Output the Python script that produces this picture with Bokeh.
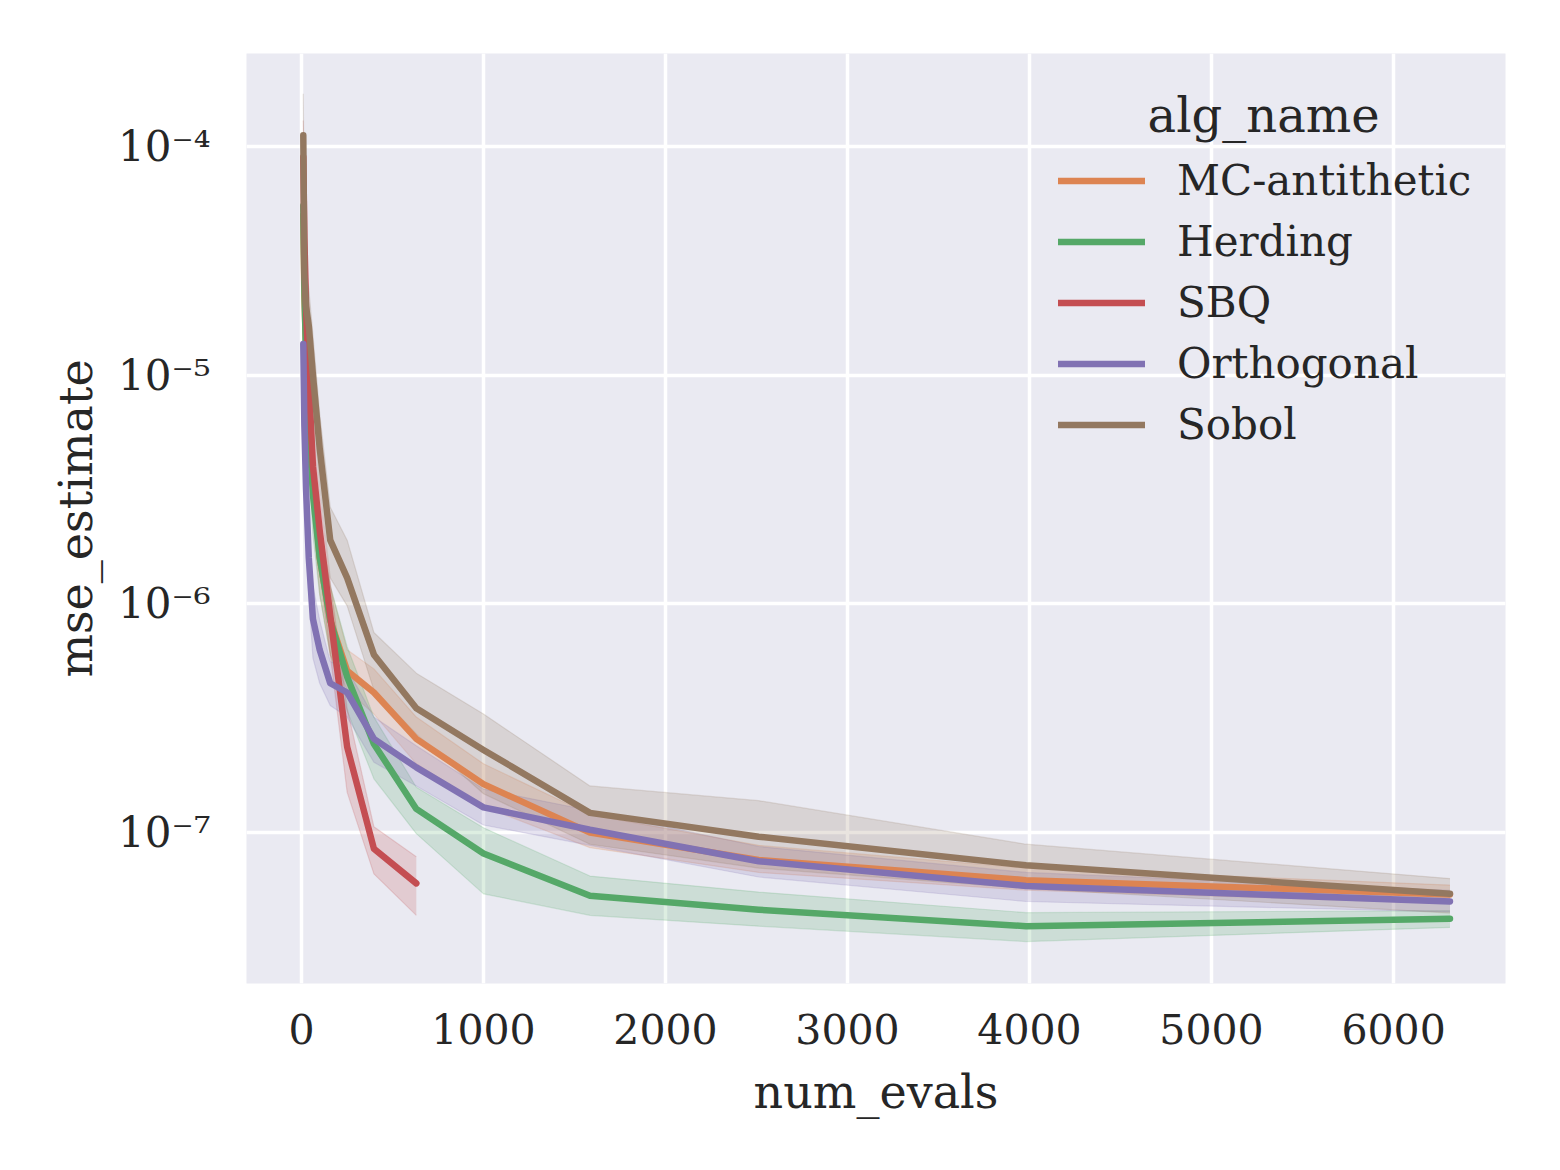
from bokeh.plotting import figure
from bokeh.models import (Range1d, FixedTicker, CustomJSTickFormatter, Legend, LegendItem,
                          Label, ColumnDataSource)
from bokeh.embed import file_html
from bokeh.resources import INLINE

num_evals = [10, 16, 25, 40, 63, 100, 158, 251, 398, 631, 1000, 1585, 2512, 3981, 6310]

alg_names = ["MC-antithetic", "Herding", "SBQ", "Orthogonal", "Sobol"]
colors = ["#dd8452", "#55a868", "#c44e52", "#8172b3", "#937860"]

mc_mean = [5.0e-5, 2.2e-5, 1.3e-5, 7.0e-6, 3.5e-6, 1.6e-6, 8.5e-7, 5.1e-7, 4.1e-7, 2.57e-7, 1.63e-7, 1.0e-7, 7.6e-8, 6.2e-8, 5.37e-8]
mc_lo = [3.0e-5, 1.4e-5, 8.5e-6, 4.6e-6, 2.4e-6, 1.1e-6, 6.0e-7, 4.2e-7, 3.3e-7, 2.0e-7, 1.3e-7, 8.6e-8, 6.7e-8, 5.6e-8, 4.9e-8]
mc_hi = [8.0e-5, 3.4e-5, 2.0e-5, 1.05e-5, 5.2e-6, 2.4e-6, 1.2e-6, 6.3e-7, 5.2e-7, 3.2e-7, 2.0e-7, 1.2e-7, 8.8e-8, 7.0e-8, 5.9e-8]

herd_mean = [5.5e-5, 2.5e-5, 1.2e-5, 6.0e-6, 3.0e-6, 1.6e-6, 8.5e-7, 4.8e-7, 2.44e-7, 1.27e-7, 8.1e-8, 5.3e-8, 4.6e-8, 3.9e-8, 4.2e-8]
herd_lo = [3.0e-5, 1.6e-5, 8.0e-6, 4.0e-6, 2.0e-6, 1.1e-6, 6.0e-7, 3.4e-7, 1.72e-7, 9.9e-8, 5.4e-8, 4.35e-8, 3.9e-8, 3.34e-8, 3.85e-8]
herd_hi = [9.0e-5, 3.8e-5, 1.8e-5, 9.0e-6, 4.5e-6, 2.3e-6, 1.2e-6, 6.5e-7, 3.2e-7, 1.58e-7, 1.05e-7, 6.46e-8, 5.5e-8, 4.47e-8, 4.56e-8]

sbq_evals = [10, 16, 25, 40, 63, 100, 158, 251, 398, 631]
sbq_mean = [9.0e-5, 4.0e-5, 2.0e-5, 9.5e-6, 4.0e-6, 2.1e-6, 8.9e-7, 2.37e-7, 8.5e-8, 6.0e-8]
sbq_lo = [6.0e-5, 2.5e-5, 1.3e-5, 6.0e-6, 2.8e-6, 1.4e-6, 6.0e-7, 1.5e-7, 6.6e-8, 4.35e-8]
sbq_hi = [1.3e-4, 6.0e-5, 3.0e-5, 1.4e-5, 5.8e-6, 3.0e-6, 1.25e-6, 3.5e-7, 1.06e-7, 7.85e-8]

orth_mean = [1.37e-5, 6.0e-6, 3.2e-6, 1.6e-6, 8.6e-7, 6.3e-7, 4.5e-7, 4.1e-7, 2.57e-7, 1.93e-7, 1.29e-7, 1.03e-7, 7.5e-8, 5.85e-8, 5.0e-8]
orth_lo = [8.0e-6, 4.0e-6, 2.2e-6, 1.1e-6, 5.8e-7, 4.5e-7, 3.6e-7, 3.2e-7, 2.03e-7, 1.6e-7, 1.08e-7, 8.8e-8, 6.4e-8, 5.0e-8, 4.5e-8]
orth_hi = [2.0e-5, 8.5e-6, 4.6e-6, 2.3e-6, 1.2e-6, 8.5e-7, 5.6e-7, 5.2e-7, 3.2e-7, 2.4e-7, 1.55e-7, 1.25e-7, 8.7e-8, 6.7e-8, 5.6e-8]

sobol_mean = [1.12e-4, 2.7e-5, 2.0e-5, 1.65e-5, 1.0e-5, 4.8e-6, 1.9e-6, 1.3e-6, 6.0e-7, 3.5e-7, 2.3e-7, 1.22e-7, 9.6e-8, 7.2e-8, 5.4e-8]
sobol_lo = [6.0e-5, 1.8e-5, 1.3e-5, 1.1e-5, 6.5e-6, 3.3e-6, 1.3e-6, 9.8e-7, 4.2e-7, 2.7e-7, 1.48e-7, 8.9e-8, 7.0e-8, 5.7e-8, 4.45e-8]
sobol_hi = [1.7e-4, 4.0e-5, 3.0e-5, 2.4e-5, 1.5e-5, 6.8e-6, 2.65e-6, 1.9e-6, 7.5e-7, 4.98e-7, 3.3e-7, 1.6e-7, 1.38e-7, 8.9e-8, 6.3e-8]

series = [
    (num_evals, mc_mean, mc_lo, mc_hi),
    (num_evals, herd_mean, herd_lo, herd_hi),
    (sbq_evals, sbq_mean, sbq_lo, sbq_hi),
    (num_evals, orth_mean, orth_lo, orth_hi),
    (num_evals, sobol_mean, sobol_lo, sobol_hi),
]

x_ticks = [0, 1000, 2000, 3000, 4000, 5000, 6000]
y_ticks = [1e-7, 1e-6, 1e-5, 1e-4]

FONT = "DejaVu Serif"
TXT = "#262626"

p = figure(width=1544, height=1154, y_axis_type="log",
           x_range=Range1d(-302, 6615), y_range=Range1d(2.19e-8, 2.55e-4),
           output_backend="svg", toolbar_location=None,
           min_border_left=246, min_border_right=39, min_border_top=53, min_border_bottom=171)

p.background_fill_color = "#eaeaf2"
p.border_fill_color = "white"
p.outline_line_color = None

p.xaxis.ticker = FixedTicker(ticks=x_ticks, minor_ticks=[])
p.yaxis.ticker = FixedTicker(ticks=y_ticks, minor_ticks=[])
p.yaxis.formatter = CustomJSTickFormatter(code="""
const e = Math.round(Math.log10(tick));
const sup = {"-":"\u207b","0":"\u2070","1":"\u00b9","2":"\u00b2","3":"\u00b3","4":"\u2074","5":"\u2075","6":"\u2076","7":"\u2077","8":"\u2078","9":"\u2079"};
return "10" + String(e).split("").map(c => sup[c]).join("");
""")

for ax in (p.xaxis[0], p.yaxis[0]):
    ax.axis_line_color = None
    ax.major_tick_line_color = None
    ax.minor_tick_line_color = None
    ax.major_label_text_font = FONT
    ax.major_label_text_color = TXT
    ax.axis_label_text_font = FONT
    ax.axis_label_text_font_size = "46px"
    ax.axis_label_text_color = TXT
    ax.axis_label_text_font_style = "normal"

p.xaxis.major_label_text_font_size = "41px"
p.yaxis.major_label_text_font_size = "42px"
p.xaxis.axis_label = "num_evals"
p.yaxis.axis_label = "mse_estimate"
p.xaxis.major_label_standoff = 24
p.yaxis.major_label_standoff = 30
p.xaxis.axis_label_standoff = 18
p.yaxis.axis_label_standoff = 12

p.xgrid.grid_line_color = "white"
p.ygrid.grid_line_color = "white"
p.xgrid.grid_line_width = 3.5
p.ygrid.grid_line_width = 3.5
p.ygrid.minor_grid_line_color = None

# bands behind all lines
for (xs, m, lo, hi), c in zip(series, colors):
    src = ColumnDataSource(dict(x=xs, lo=lo, hi=hi))
    p.varea(x="x", y1="lo", y2="hi", source=src, fill_color=c, fill_alpha=0.2)
    p.line(x="x", y="lo", source=src, line_color=c, line_alpha=0.2, line_width=1.2)
    p.line(x="x", y="hi", source=src, line_color=c, line_alpha=0.2, line_width=1.2)

items = []
for (xs, m, lo, hi), c, name in zip(series, colors, alg_names):
    src = ColumnDataSource(dict(x=xs, y=m))
    r = p.line(x="x", y="y", source=src, line_color=c, line_width=6.5,
               line_cap="round", line_join="round")
    items.append(LegendItem(label=name, renderers=[r]))

legend = Legend(items=items, location=(812, 534), padding=0, margin=0,
                background_fill_alpha=0, border_line_color=None,
                glyph_width=87, glyph_height=41, label_standoff=32, spacing=12,
                label_text_font=FONT, label_text_font_size="42px", label_text_color=TXT)
p.add_layout(legend, "center")

p.add_layout(Label(x=5286, y=1.37e-4, text="alg_name", text_align="center",
                   text_baseline="middle", text_font=FONT, text_font_size="48px",
                   text_color=TXT))

open("out.html", "w").write(file_html(p, INLINE))
